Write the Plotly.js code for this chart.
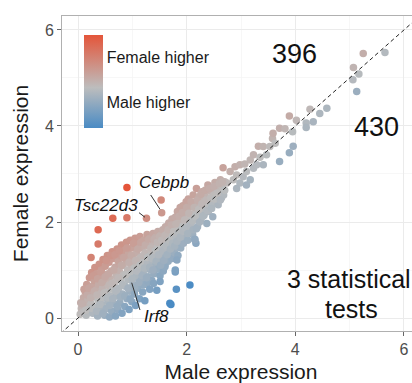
<!DOCTYPE html>
<html>
<head>
<meta charset="utf-8">
<script src="https://cdn.plot.ly/plotly-3.0.1.min.js"></script>
<style>
html,body{margin:0;padding:0;background:#fff;overflow:hidden;width:412px;height:383px;}
#chart{width:420px;height:383px;}
</style>
</head>
<body>
<div id="chart"></div>
<script>
// Male / female expression per gene
const male = [
  0.04,0.06,0.05,0.09,0.10,0.12,0.13,0.15,0.16,0.18,0.19,0.21,0.22,0.24,0.25,0.26,0.27,
  0.29,0.30,0.31,0.32,0.33,0.34,0.36,0.37,0.38,0.39,0.40,0.41,0.42,0.43,0.44,0.45,0.46,
  0.47,0.48,0.49,0.50,0.51,0.52,0.53,0.54,0.55,0.56,0.57,0.58,0.59,0.60,0.61,0.62,0.63,0.64,0.65,
  0.66,0.67,0.68,0.69,0.70,0.71,0.72,0.73,0.74,0.75,0.76,0.77,0.78,0.79,0.80,0.81,0.82,0.83,0.84,0.85,
  0.86,0.87,0.88,0.89,0.90,0.91,0.92,0.93,0.94,0.95,0.96,0.97,0.98,0.99,1.00,1.01,1.02,1.03,1.04,1.05,
  1.06,1.07,1.08,1.09,1.10,1.11,1.12,1.13,1.14,1.15,1.16,1.17,1.18,1.19,1.20,1.21,1.22,1.23,1.24,1.25,
  1.26,1.27,1.28,1.29,1.30,1.31,1.32,1.33,1.34,1.35,1.36,1.37,1.38,1.39,1.40,1.41,1.42,1.43,1.44,1.45,
  1.46,1.47,1.48,1.49,1.50,1.51,1.52,1.53,1.54,1.55,1.56,1.57,1.58,1.59,1.60,1.61,1.62,1.63,1.64,1.65,
  1.66,1.67,1.68,1.69,1.70,1.71,1.72,1.73,1.74,1.75,1.76,1.77,1.78,1.79,1.80,1.81,1.82,1.83,1.84,1.85,
  1.86,1.87,1.88,1.89,1.90,1.91,1.92,1.93,1.94,1.95,1.96,1.97,1.98,1.99,2.00,2.01,2.02,2.03,2.04,2.05,
  2.07,2.08,2.10,2.11,2.12,2.14,2.15,2.16,2.18,2.19,2.20,2.22,2.23,2.25,2.26,2.28,2.29,2.30,
  2.32,2.34,2.36,2.37,2.39,2.40,2.42,2.44,2.46,2.48,2.50,2.52,2.54,2.56,2.58,2.60,2.62,2.64,2.66,2.68,2.70,
  2.74,2.67,2.80,2.86,2.89,2.92,2.98,2.98,3.04,3.07,3.10,3.17,3.17,3.23,3.23,3.29,3.32,3.35,3.41,3.41,
  3.47,3.53,3.58,3.59,3.63,3.71,3.71,3.81,3.89,3.89,3.95,3.96,4.02,4.20,4.20,4.27,4.33,4.45,4.58,
  5.06,5.07,5.13,5.17,5.25,5.65,2.92,3.10,
  0.90,0.64,0.90,1.26,1.53,1.54,0.37,0.37,0.24,
  2.06,1.69,1.71,1.81,1.79,1.82,2.17,2.15,1.20,1.29,1.39,1.51,1.60,1.79,
  0.08,0.11,0.14,0.17,0.20,0.23,0.26,0.28,0.30,0.34,
  0.35,0.36,0.40,0.42,0.44,0.46,0.48,0.50,0.52,0.54,
  0.56,0.58,0.60,0.62,0.64,0.66,0.68,0.70,0.72,0.74,
  0.76,0.78,0.80,0.82,0.84,0.86,0.88,0.90,0.92,0.94,
  0.96,0.98,1.00,1.02,1.04,1.06,1.08,1.10,1.12,1.14,
  1.16,1.18,1.20,1.22,1.24,1.26,1.28,1.30,1.32,1.34,
  1.36,1.38,1.40,1.42,1.44,1.46,1.48,1.50,1.52,1.54,
  1.56,1.58,1.60,1.62,1.64,1.66,1.68,1.70,1.72,1.74,
  1.76,1.78,1.80,1.82,1.84,1.86,1.88,1.90,1.92,1.94,
  1.96,1.98,2.00,2.02,2.04,2.06,2.08,2.10,2.12,2.14,
  2.16,2.18,2.20,2.22,2.24,2.26,2.28,2.30,2.34,2.36,
  2.38,2.42,2.44,2.46,2.50,2.52,2.56,2.60,2.62,2.66,2.70
];
const female = [
  0.08,0.20,0.32,0.12,0.42,0.26,0.55,0.06,0.70,0.38,0.18,0.84,0.52,0.30,0.95,0.66,0.10,
  0.44,0.78,1.05,0.22,0.58,0.92,0.04,0.36,0.70,1.12,0.50,0.84,0.16,1.00,0.28,0.62,1.22,
  0.42,0.76,0.06,1.08,0.90,0.20,0.54,1.30,0.34,0.68,1.16,0.02,0.82,0.46,0.98,0.14,1.38,0.60,1.24,
  0.30,0.74,1.06,0.04,0.88,0.46,1.44,0.18,1.18,0.62,0.98,0.32,1.30,0.78,1.52,0.10,0.50,1.10,0.90,1.40,
  0.24,0.66,1.22,1.58,0.40,1.00,0.80,1.34,0.18,0.56,1.62,1.12,0.92,0.34,1.46,0.70,1.24,1.04,0.50,1.66,
  0.26,0.86,1.36,1.14,0.62,1.54,0.98,0.40,1.70,1.26,0.78,1.08,1.46,0.54,0.92,1.62,1.20,0.36,1.36,1.02,
  0.70,1.74,1.14,0.86,1.50,1.28,0.60,1.66,1.00,1.40,0.78,1.18,1.76,1.56,0.92,1.30,1.08,1.68,1.46,0.58,
  1.22,1.80,1.02,1.60,1.38,0.88,1.72,1.16,1.50,1.30,1.84,0.98,1.64,1.42,1.10,1.90,1.26,1.56,1.76,1.40,
  1.18,1.98,1.52,1.66,1.32,1.86,1.44,2.06,1.24,1.74,1.58,1.94,1.36,2.10,1.68,1.48,1.84,2.22,1.30,1.98,
  1.60,1.76,2.30,1.46,2.06,1.90,1.68,2.34,1.56,2.16,1.82,2.00,1.70,2.42,1.92,2.24,1.62,2.48,2.08,1.80,
  2.32,1.96,2.16,1.74,2.56,2.04,1.64,2.40,2.70,2.22,1.90,2.10,2.52,2.30,2.04,2.63,2.20,2.42,
  2.14,2.54,2.32,1.97,2.77,2.22,2.44,2.64,2.34,2.11,2.56,2.82,2.44,2.70,2.36,2.60,2.88,2.50,2.72,2.56,2.84,
  2.81,3.13,3.05,2.88,3.15,2.98,3.19,2.81,2.94,3.21,3.05,3.29,2.88,3.12,3.40,3.19,3.58,3.35,3.57,3.19,
  3.40,3.57,3.74,3.85,3.64,3.95,3.26,3.94,4.21,3.44,3.88,3.58,4.12,4.06,3.97,4.35,4.09,4.26,4.37,
  4.96,5.22,4.72,5.08,5.51,5.53,2.70,2.77,
  2.72,2.08,2.09,2.08,2.46,2.19,1.84,1.54,1.26,
  0.69,0.31,0.28,0.60,0.96,1.21,1.56,1.63,0.69,0.76,0.72,0.76,1.07,1.00,
  0.30,0.60,0.16,0.48,0.62,0.42,0.20,0.88,0.56,0.14,
  0.48,0.82,0.28,0.96,0.74,0.10,0.52,0.86,1.20,0.42,
  0.92,0.26,1.30,0.72,0.40,1.00,1.32,0.56,0.24,0.84,
  1.40,0.44,1.10,0.70,1.26,0.46,0.90,1.46,0.62,1.16,
  0.40,1.30,0.82,1.56,0.64,1.20,0.98,1.44,0.74,1.10,
  1.58,0.88,1.30,1.04,1.52,0.84,1.26,1.64,1.06,1.46,
  1.24,1.00,1.64,1.40,1.18,1.58,1.32,1.70,1.10,1.62,
  1.40,1.20,1.72,1.50,1.32,1.84,1.62,1.44,1.94,1.56,
  1.80,1.50,1.96,1.60,1.76,2.12,1.68,1.84,2.20,1.80,
  2.04,1.86,2.30,1.76,2.18,1.92,2.42,2.02,1.84,2.30,
  2.12,1.86,2.46,2.26,2.00,2.58,2.38,2.12,2.66,2.46,
  2.24,2.70,2.50,2.28,2.74,2.48,2.60,2.80,2.46,2.84,2.66
];
const axisTicks = [0, 2, 4, 6];
const minorTicks = [1, 3, 5];
const legendLabels = ['Female higher', 'Male higher'];
const legendValues = [1.06, -0.5];
const countLabels = ['396', '430'];
const geneLabels = ['Cebpb', 'Tsc22d3', 'Irf8'];
const diagonal = [-1, 7];

const diff = female.map((f, i) => f - male[i]);
const cmin = -1.4, cmax = 1.82;
const mid = (0 - cmin) / (cmax - cmin);

const font = 'Liberation Sans, Arial, Helvetica, sans-serif';

const points = {
  type: 'scatter', mode: 'markers', x: male, y: female,
  marker: {
    size: 7.5, color: diff, cmin: cmin, cmax: cmax,
    colorscale: [[0, '#4A8BC4'], [mid, '#BDBDBD'], [1, '#E4553A']],
    line: {width: 0},
    showscale: true,
    colorbar: {
      x: 0.0615, xanchor: 'left', xpad: 0, y: 0.792, yanchor: 'middle', ypad: 0,
      len: 93, lenmode: 'pixels', thickness: 19, thicknessmode: 'pixels',
      outlinewidth: 0, borderwidth: 0, ticks: '', ticklen: 0,
      tickvals: legendValues, ticktext: legendLabels,
      tickfont: {family: font, size: 16, color: '#1a1a1a'}
    }
  },
  hoverinfo: 'skip'
};
const line = {
  type: 'scatter', mode: 'lines', x: diagonal, y: diagonal,
  line: {color: '#222222', width: 1, dash: '4px,3px'}, hoverinfo: 'skip'
};

const axisBase = {
  tickvals: axisTicks, ticks: 'outside', ticklen: 4, tickcolor: '#666',
  tickfont: {family: font, size: 16, color: '#4D4D4D'},
  showgrid: true, gridcolor: '#EBEBEB', gridwidth: 1,
  minor: {tickvals: minorTicks, showgrid: true, gridcolor: '#F4F4F4', gridwidth: 0.7, ticks: ''},
  showline: true, linecolor: '#B0B0B0', linewidth: 1, mirror: true, zeroline: false
};

const ann = (x, y, text, size, extra) => Object.assign({
  x: x, y: y, xref: 'x', yref: 'y', text: text, showarrow: false,
  xanchor: 'center', yanchor: 'middle', font: {family: font, size: size, color: '#111'}
}, extra || {});

const seg = (x0, y0, x1, y1) => ({type: 'line', xref: 'x', yref: 'y', x0: x0, y0: y0, x1: x1, y1: y1,
  line: {color: '#333', width: 1}});

const layout = {
  width: 420, height: 383,
  margin: {l: 62, r: 0, t: 16, b: 52},
  paper_bgcolor: '#fff', plot_bgcolor: '#fff',
  showlegend: false,
  xaxis: Object.assign({}, axisBase, {
    range: [-0.295, 6.295],
    title: {text: 'Male expression', font: {family: font, size: 21, color: '#1a1a1a'}, standoff: 8}
  }),
  yaxis: Object.assign({}, axisBase, {
    range: [-0.27, 6.29],
    title: {text: 'Female expression', font: {family: font, size: 21, color: '#1a1a1a'}, standoff: 10}
  }),
  annotations: [
    ann(3.976, 5.5, countLabels[0], 27),
    ann(5.503, 3.98, countLabels[1], 27),
    ann(4.99, 0.8125, '3 statistical', 25),
    ann(5.04, 0.1875, 'tests', 25),
    ann(1.583, 2.8125, '<i>' + geneLabels[0] + '</i>', 17),
    ann(0.52, 2.354, '<i>' + geneLabels[1] + '</i>', 17),
    ann(1.445, 0.042, '<i>' + geneLabels[2] + '</i>', 17)
  ],
  shapes: [
    seg(1.338, 2.5625, 1.509, 2.265),
    seg(1.123, 2.194, 1.233, 2.098),
    seg(0.988, 0.735, 1.141, 0.167)
  ]
};

Plotly.newPlot('chart', [points, line], layout, {staticPlot: true, displayModeBar: false});
</script>
</body>
</html>
